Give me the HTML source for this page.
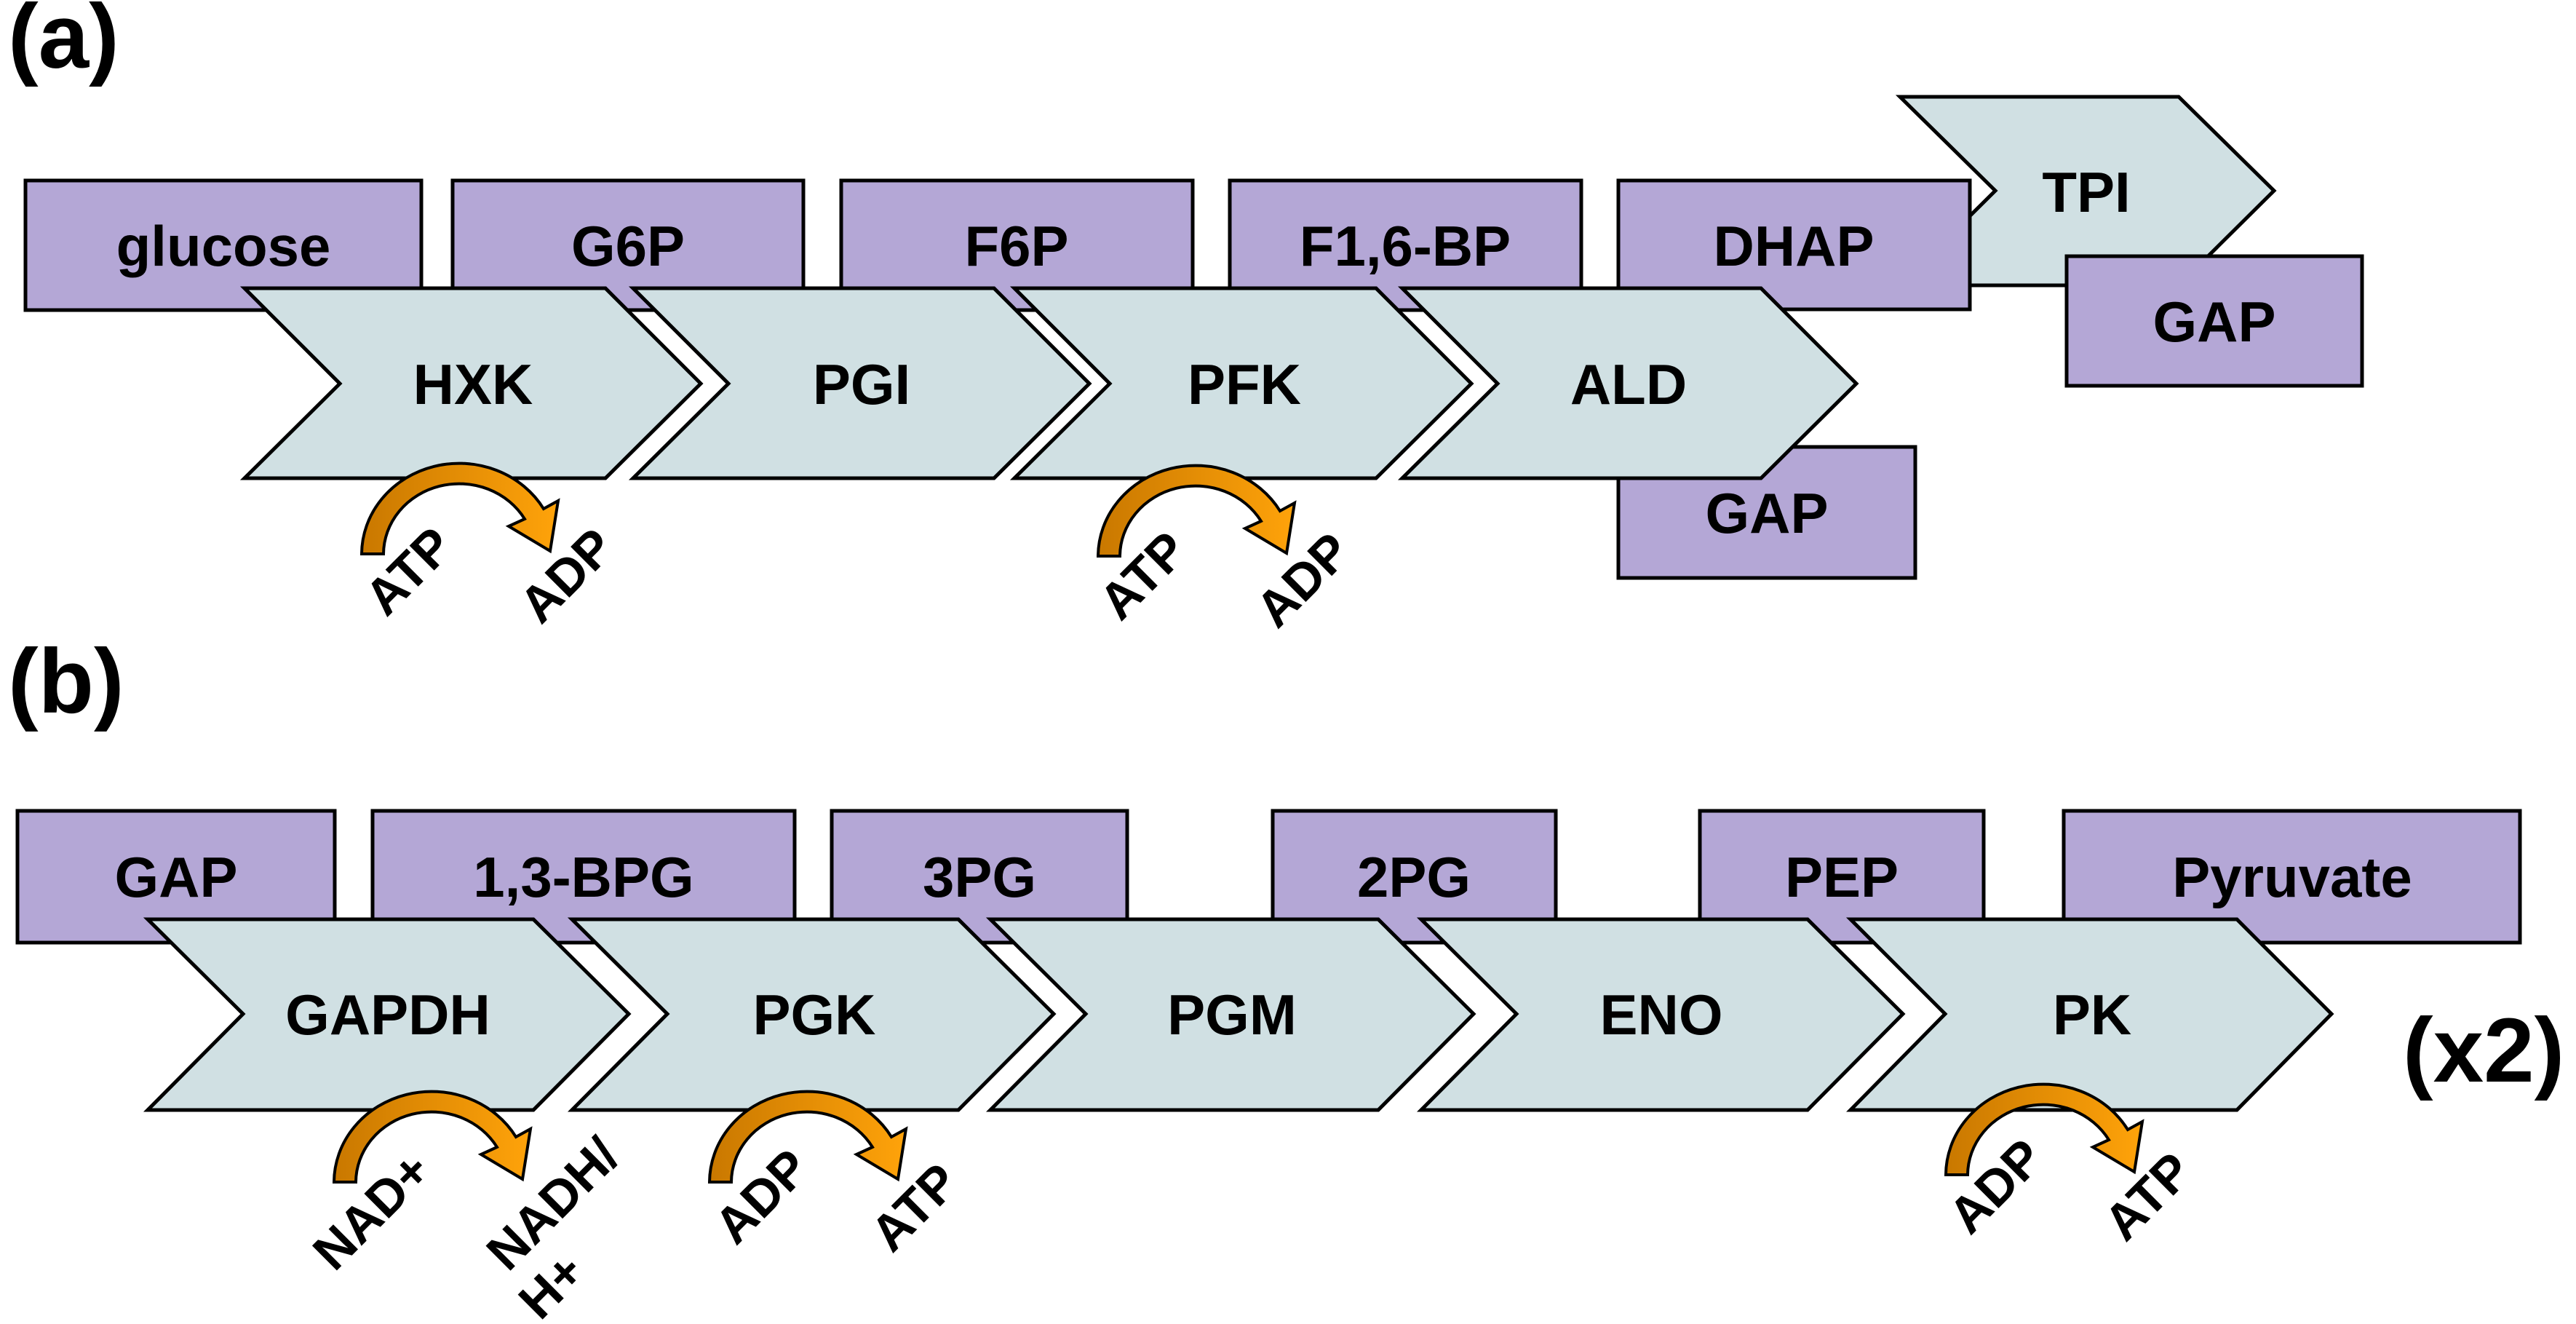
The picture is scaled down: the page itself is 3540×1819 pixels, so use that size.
<!DOCTYPE html>
<html><head><meta charset="utf-8">
<style>
html,body{margin:0;padding:0;background:#fff;}
svg{display:block;}
text{font-family:"Liberation Sans",Arial,sans-serif;font-weight:bold;fill:#000;}
</style></head>
<body>
<svg width="3540" height="1819" viewBox="0 0 3540 1819" xmlns="http://www.w3.org/2000/svg">
<defs>
<linearGradient id="og" x1="0" y1="0" x2="1" y2="0">
<stop offset="0" stop-color="#c97800"/><stop offset="1" stop-color="#ffa30a"/>
</linearGradient>
<path id="arc" d="M -134 0 A 134 125 0 0 1 116 -62 L 136 -73 L 125 -4 L 68 -38 L 90 -48 A 104 97 0 0 0 -104 0 Z" fill="url(#og)" stroke="#000" stroke-width="4" stroke-linejoin="miter"/>
</defs>
<g stroke="#000" stroke-width="5" stroke-linejoin="miter">
<rect x="35" y="248" width="544" height="178" fill="#b4a7d6"/>
<rect x="622" y="248" width="482" height="178" fill="#b4a7d6"/>
<rect x="1156" y="248" width="483" height="178" fill="#b4a7d6"/>
<rect x="1690" y="248" width="483" height="178" fill="#b4a7d6"/>
<rect x="2224" y="614" width="408" height="180" fill="#b4a7d6"/>
<polygon points="2611,133 2994,133 3125,262 2994,392 2611,392 2742,262" fill="#d0e0e3"/>
<rect x="2224" y="248" width="483" height="177" fill="#b4a7d6"/>
<rect x="2840" y="352" width="406" height="178" fill="#b4a7d6"/>
<polygon points="336,396 832,396 963,527 832,657 336,657 467,527" fill="#d0e0e3"/>
<polygon points="870,396 1366,396 1497,527 1366,657 870,657 1001,527" fill="#d0e0e3"/>
<polygon points="1394,396 1891,396 2022,527 1891,657 1394,657 1525,527" fill="#d0e0e3"/>
<polygon points="1927,396 2420,396 2551,527 2420,657 1927,657 2058,527" fill="#d0e0e3"/>
<rect x="24" y="1114" width="436" height="181" fill="#b4a7d6"/>
<rect x="512" y="1114" width="580" height="181" fill="#b4a7d6"/>
<rect x="1143" y="1114" width="406" height="181" fill="#b4a7d6"/>
<rect x="1749" y="1114" width="389" height="181" fill="#b4a7d6"/>
<rect x="2336" y="1114" width="390" height="181" fill="#b4a7d6"/>
<rect x="2836" y="1114" width="627" height="181" fill="#b4a7d6"/>
<polygon points="203,1263 733,1263 864,1393 733,1525 203,1525 334,1393" fill="#d0e0e3"/>
<polygon points="786,1263 1317,1263 1448,1393 1317,1525 786,1525 917,1393" fill="#d0e0e3"/>
<polygon points="1361,1263 1894,1263 2025,1393 1894,1525 1361,1525 1492,1393" fill="#d0e0e3"/>
<polygon points="1953,1263 2484,1263 2615,1393 2484,1525 1953,1525 2084,1393" fill="#d0e0e3"/>
<polygon points="2543,1263 3074,1263 3204,1393 3074,1525 2543,1525 2673,1393" fill="#d0e0e3"/>
</g>
<use href="#arc" transform="translate(631,761)"/>
<use href="#arc" transform="translate(1643,764)"/>
<use href="#arc" transform="translate(593,1624)"/>
<use href="#arc" transform="translate(1109,1624)"/>
<use href="#arc" transform="translate(2808,1614)"/>

<text x="11" y="93" font-size="125">(a)</text>
<text x="11" y="979" font-size="125">(b)</text>
<text x="3302" y="1486" font-size="125">(x2)</text>

<g font-size="78" text-anchor="middle">
<text x="307" y="365">glucose</text>
<text x="863" y="365">G6P</text>
<text x="1397" y="365">F6P</text>
<text x="1931" y="365">F1,6-BP</text>
<text x="2465" y="365">DHAP</text>
<text x="3043" y="469">GAP</text>
<text x="2428" y="732">GAP</text>
<text x="2867" y="291">TPI</text>
<text x="650" y="555">HXK</text>
<text x="1184" y="555">PGI</text>
<text x="1710" y="555">PFK</text>
<text x="2238" y="555">ALD</text>
<text x="242" y="1232">GAP</text>
<text x="802" y="1232">1,3-BPG</text>
<text x="1346" y="1232">3PG</text>
<text x="1943" y="1232">2PG</text>
<text x="2531" y="1232">PEP</text>
<text x="3150" y="1232">Pyruvate</text>
<text x="533" y="1421">GAPDH</text>
<text x="1119" y="1421">PGK</text>
<text x="1693" y="1421">PGM</text>
<text x="2283" y="1421">ENO</text>
<text x="2875" y="1421">PK</text>
</g>

<g font-size="70" text-anchor="middle">
<text x="561" y="809" transform="rotate(-45 561 784)">ATP</text>
<text x="778" y="815" transform="rotate(-45 778 790)">ADP</text>
<text x="1570" y="815" transform="rotate(-45 1570 790)">ATP</text>
<text x="1790" y="821" transform="rotate(-45 1790 796)">ADP</text>
<text x="510" y="1688" transform="rotate(-45 510 1663)">NAD+</text>
<text x="759" y="1678" transform="rotate(-45 759 1653)">NADH/</text>
<text x="757" y="1791" transform="rotate(-45 757 1766)">H+</text>
<text x="1046" y="1668" transform="rotate(-45 1046 1643)">ADP</text>
<text x="1256" y="1683" transform="rotate(-45 1256 1658)">ATP</text>
<text x="2742" y="1654" transform="rotate(-45 2742 1629)">ADP</text>
<text x="2951" y="1668" transform="rotate(-45 2951 1643)">ATP</text>
</g>
</svg>
</body></html>
